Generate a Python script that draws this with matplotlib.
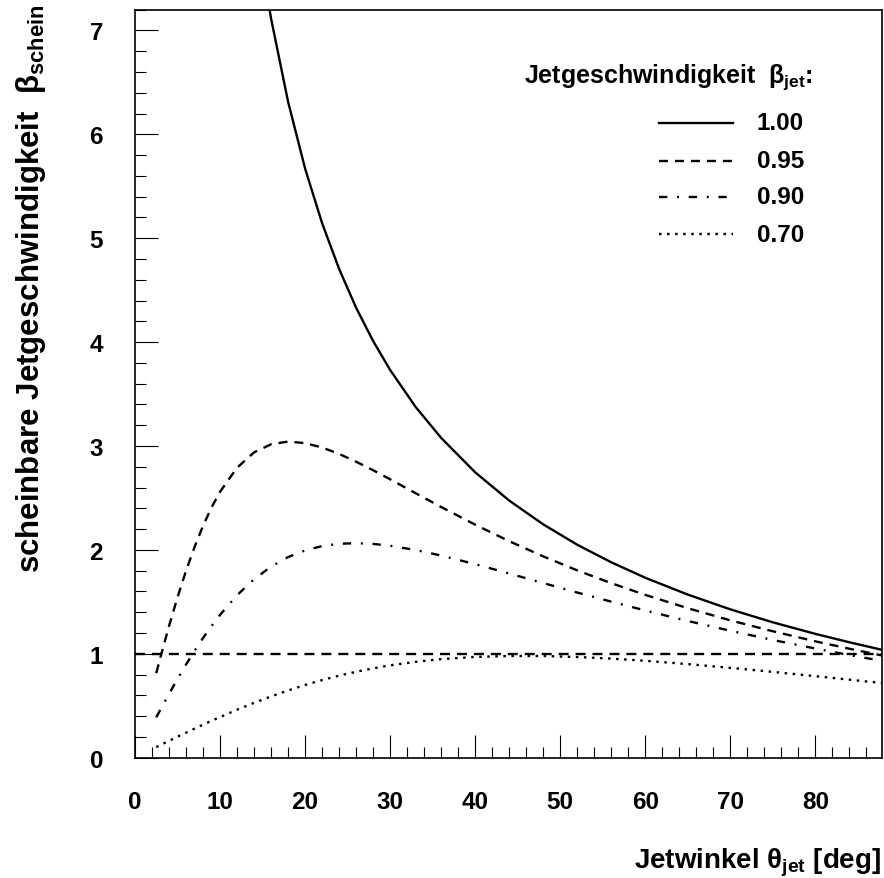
import matplotlib
matplotlib.use("Agg")
import matplotlib.pyplot as plt
from matplotlib.lines import Line2D
from matplotlib.ticker import MultipleLocator

plt.rcParams["font.family"] = ["Liberation Sans", "DejaVu Sans"]
plt.rcParams["font.weight"] = "bold"
plt.rcParams["mathtext.fontset"] = "custom"
plt.rcParams["mathtext.rm"] = "Liberation Sans:bold"
plt.rcParams["mathtext.bf"] = "Liberation Sans:bold"
plt.rcParams["mathtext.it"] = "Liberation Sans"
plt.rcParams["lines.scale_dashes"] = False

# Jet angle (deg) and apparent jet speed for each intrinsic jet speed
theta = [2.5, 3, 4, 5, 6, 7, 8, 9, 10, 12, 14, 16, 18, 20, 22, 24, 26, 28, 30,
         33, 36, 40, 44, 48, 52, 56, 60, 65, 70, 75, 80, 84, 87.8]

theta_100 = [14, 15, 16, 18, 20, 22, 24, 26, 28, 30, 33, 36, 40, 44, 48, 52, 56,
             60, 65, 70, 75, 80, 84, 87.8]
beta_100 = [8.145, 7.596, 7.115, 6.314, 5.671, 5.145, 4.705, 4.331, 4.011, 3.732,
            3.376, 3.078, 2.747, 2.475, 2.246, 2.050, 1.881, 1.732, 1.570, 1.428,
            1.303, 1.192, 1.111, 1.039]

beta_095 = [0.814, 0.969, 1.267, 1.544, 1.799, 2.028, 2.232, 2.409, 2.560, 2.791,
            2.939, 3.017, 3.043, 3.028, 2.986, 2.924, 2.849, 2.767, 2.680, 2.546,
            2.413, 2.243, 2.084, 1.938, 1.803, 1.680, 1.567, 1.439, 1.322, 1.217,
            1.120, 1.049, 0.985]

beta_090 = [0.389, 0.465, 0.614, 0.758, 0.897, 1.028, 1.152, 1.267, 1.375, 1.564,
            1.718, 1.839, 1.931, 1.995, 2.037, 2.059, 2.065, 2.058, 2.040, 1.999,
            1.946, 1.863, 1.773, 1.681, 1.590, 1.502, 1.417, 1.316, 1.222, 1.133,
            1.051, 0.988, 0.932]

beta_070 = [0.102, 0.122, 0.162, 0.202, 0.241, 0.280, 0.318, 0.355, 0.391, 0.462,
            0.528, 0.590, 0.647, 0.700, 0.747, 0.790, 0.827, 0.860, 0.889, 0.923,
            0.949, 0.970, 0.979, 0.979, 0.969, 0.954, 0.933, 0.901, 0.865, 0.826,
            0.785, 0.751, 0.719]

speed_labels = ["1.00", "0.95", "0.90", "0.70"]
light_speed = 1.0

W, H = 884, 879
fig = plt.figure(figsize=(W / 100, H / 100), dpi=100)
ax = fig.add_axes([135 / W, 1 - 758.7 / H, (881.7 - 135) / W, (758.7 - 10.7) / H])

lw = 1.7
styles = [
    dict(linestyle="-"),
    dict(dashes=(6.5, 5.0)),
    dict(dashes=(6.0, 7.0, 1.4, 7.0)),
    dict(dashes=(1.8, 4.0)),
]

ax.plot(theta_100, beta_100, color="black", lw=lw, **styles[0])
ax.plot(theta, beta_095, color="black", lw=lw, **styles[1])
ax.plot(theta, beta_090, color="black", lw=lw, **styles[2])
ax.plot(theta, beta_070, color="black", lw=lw, **styles[3])
ax.axhline(light_speed, color="black", lw=lw, dashes=(7.2, 5.0))

ax.set_xlim(0, 87.8)
ax.set_ylim(0, 7.2)
ax.xaxis.set_major_locator(MultipleLocator(10))
ax.xaxis.set_minor_locator(MultipleLocator(2))
ax.yaxis.set_major_locator(MultipleLocator(1))
ax.yaxis.set_minor_locator(MultipleLocator(0.2))
ax.tick_params(which="major", direction="in", length=16.3, width=0.8,
               labelsize=17.5, pad=23)
ax.tick_params(which="minor", direction="in", length=8.2, width=0.8)
ax.tick_params(top=False, right=False)
for lab in ax.get_xticklabels() + ax.get_yticklabels():
    lab.set_fontweight("bold")
for sp in ax.spines.values():
    sp.set_linewidth(1.2)

# axis titles, aligned to the ends of the axes
fig.text(881 / W, 1 - 869 / H, r"Jetwinkel $\theta_{\mathregular{jet}}$ [deg]",
         ha="right", va="baseline", fontsize=20, fontweight="bold")
fig.text(31 / W, 1 - 5 / H,
         r"scheinbare Jetgeschwindigkeit  $\beta_{\mathregular{schein}}$",
         ha="center", va="top", rotation=90, fontsize=22.5, fontweight="bold")

# key
fig.text(813 / W, 1 - 77 / H, r"Jetgeschwindigkeit  $\beta_{\mathregular{jet}}$:",
         ha="right", va="center", fontsize=18, fontweight="bold")
rows = [124, 162, 198, 235]
for y, lab, st in zip(rows, speed_labels, styles):
    fig.add_artist(Line2D([659 / W, 733 / W], [1 - y / H, 1 - y / H],
                          transform=fig.transFigure, color="black", lw=lw, **st))
    fig.text(757 / W, 1 - y / H, lab, ha="left", va="center",
             fontsize=17.5, fontweight="bold")

fig.savefig("out.png", dpi=100)
